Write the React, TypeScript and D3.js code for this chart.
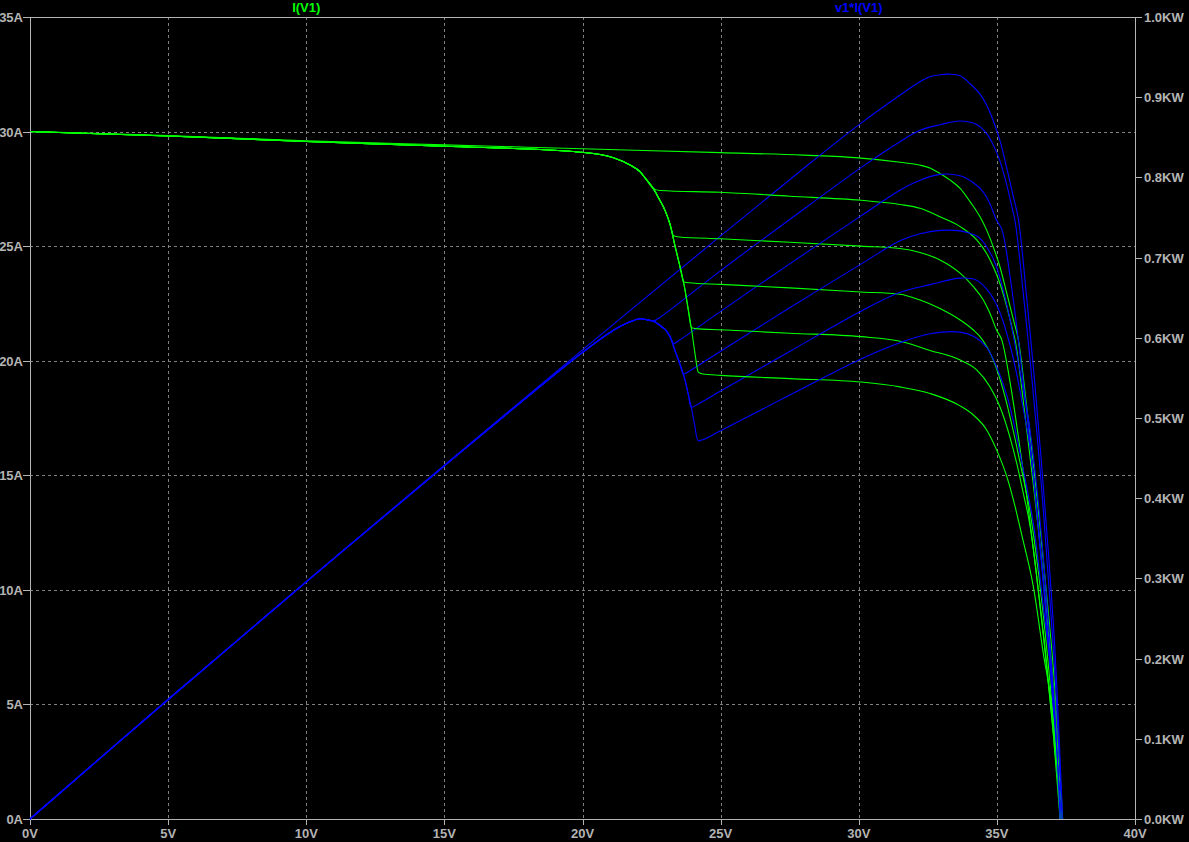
import React from 'react';
import * as d3 from 'd3';

type Pt = [number, number]; // [volts, amps]

// x axis (volts) and y axes
const voltTicks = [0, 5, 10, 15, 20, 25, 30, 35, 40];
const ampTicks = [0, 5, 10, 15, 20, 25, 30, 35];
const kwTicks = [0, 0.1, 0.2, 0.3, 0.4, 0.5, 0.6, 0.7, 0.8, 0.9, 1.0];

// unshaded panel
const curveFull: Pt[] = [
  [0, 30.0], [5, 29.83], [10, 29.6], [15, 29.42], [20, 29.25], [25, 29.08], [28, 28.97],
  [30, 28.85], [31.5, 28.66], [32.2, 28.54], [32.6, 28.4], [32.94, 28.17], [33.3, 27.89],
  [33.67, 27.52], [34.03, 26.94], [34.39, 26.28], [34.63, 25.7], [34.87, 24.97], [35.11, 24.1],
  [35.36, 22.94], [35.6, 21.78], [35.78, 20.9], [36.08, 18.0], [36.35, 15.2], [36.6, 12.3],
  [36.85, 9.2], [37.1, 5.7], [37.38, 0],
];

// shared knee of the shaded sweeps (bypass diode kicking in)
const shadedKnee: Pt[] = [
  [0, 30.0], [5, 29.81], [10, 29.57], [15, 29.36], [19.91, 29.1], [21.12, 28.86], [21.72, 28.54],
  [22.08, 28.25], [22.32, 27.89], [22.56, 27.52], [22.8, 27.0], [22.99, 26.55], [23.17, 25.95],
  [23.35, 25.0], [23.53, 24.1], [23.71, 23.09], [23.83, 22.22], [23.95, 21.35], [24.07, 20.33],
  [24.19, 19.53],
];

const tailB: Pt[] = [
  [22.8, 27.43], [24.98, 27.35], [27.5, 27.18], [30.08, 27.0], [31.49, 26.82], [32.22, 26.65],
  [32.94, 26.28], [33.67, 25.85], [34.27, 25.27], [34.63, 24.68], [34.87, 24.1], [35.11, 23.37],
  [35.36, 22.35], [35.54, 21.49], [35.66, 20.9], [36.0, 17.8], [36.3, 14.8], [36.6, 11.5],
  [36.85, 8.3], [37.1, 4.9], [37.36, 0],
];
const tailC: Pt[] = [
  [23.3, 25.45], [23.5, 25.4], [25, 25.32], [27.5, 25.17], [30.08, 25.0], [31.49, 24.9],
  [32.22, 24.72], [32.94, 24.4], [33.67, 23.82], [34.15, 23.23], [34.51, 22.65], [34.75, 22.07],
  [34.99, 21.34], [35.18, 20.9], [35.5, 18.9], [35.8, 16.5], [36.1, 13.9], [36.4, 11.0],
  [36.7, 7.8], [37.0, 4.3], [37.33, 0],
];
const tailD: Pt[] = [
  [23.66, 23.45], [23.85, 23.4], [25, 23.33], [27.5, 23.18], [30.08, 23.0], [31.49, 22.9],
  [32.22, 22.65], [32.94, 22.28], [33.67, 21.78], [34.15, 21.34], [34.39, 21.05], [34.87, 20.03],
  [35.23, 18.72], [35.6, 16.9], [35.9, 15.2], [36.2, 13.4], [36.5, 10.8], [36.8, 7.5],
  [37.05, 4.2], [37.31, 0],
];
const tailE: Pt[] = [
  [23.94, 21.45], [24.1, 21.4], [25, 21.35], [27.5, 21.2], [30.08, 21.05], [31.5, 20.85],
  [32.58, 20.45], [33.67, 20.03], [34.27, 19.6], [34.75, 18.86], [35.11, 17.99], [35.47, 16.68],
  [35.72, 15.52], [35.96, 14.2], [36.2, 12.8], [36.5, 10.0], [36.8, 6.8], [37.05, 3.6], [37.29, 0],
];
const tailF: Pt[] = [
  [24.19, 19.5], [24.35, 19.42], [25, 19.36], [27.5, 19.22], [30.08, 19.07], [31.49, 18.86],
  [32.58, 18.57], [33.67, 18.03], [34.15, 17.63], [34.63, 16.98], [34.99, 16.11], [35.36, 14.94],
  [35.6, 13.92], [35.9, 12.4], [36.32, 10.14], [36.68, 7.23], [37.04, 4.32], [37.22, 1.41],
  [37.29, 0],
];

const joinKnee = (tail: Pt[]): Pt[] => [...shadedKnee.filter((p) => p[0] < tail[0][0]), ...tail];

const curves: Pt[][] = [
  curveFull,
  joinKnee(tailB),
  joinKnee(tailC),
  joinKnee(tailD),
  joinKnee(tailE),
  joinKnee(tailF),
];

const W = 1189;
const H = 842;
const M = { left: 30, right: 1135, top: 17, bottom: 819 };
const AXIS = '#b4b4b4';
const GRID = '#808080';
const GREEN = '#00ff00';
const BLUE = '#0000ff';
const FONT = '"Liberation Sans", Arial, sans-serif';

const App: React.FC = () => {
  const x = d3.scaleLinear().domain([0, 40]).range([M.left, M.right]);
  const yA = d3.scaleLinear().domain([0, 35]).range([M.bottom, M.top]);
  const yKW = d3.scaleLinear().domain([0, 1.0]).range([M.bottom, M.top]);

  const currentLine = d3.line<Pt>()
    .x((d) => x(d[0]))
    .y((d) => yA(d[1]))
    .curve(d3.curveMonotoneX);

  // v1*I(V1), in kW
  const powerLine = d3.line<Pt>()
    .x((d) => x(d[0]))
    .y((d) => yKW((d[0] * d[1]) / 1000))
    .curve(d3.curveCatmullRom.alpha(0.5));

  const px = (v: number) => Math.round(v) + 0.5;

  return (
    <div style={{ position: 'fixed', left: 0, top: 0, width: W, height: H, background: '#000' }}>
      <svg width={W} height={H} style={{ display: 'block', background: '#000' }}>
        {/* grid */}
        <g stroke={GRID} strokeWidth={1} strokeDasharray="3,3" shapeRendering="crispEdges">
          {voltTicks.slice(1, -1).map((v) => (
            <line key={'gx' + v} x1={px(x(v))} x2={px(x(v))} y1={M.top} y2={M.bottom} />
          ))}
          {ampTicks.slice(1, -1).map((a) => (
            <line key={'gy' + a} x1={M.left} x2={M.right} y1={px(yA(a))} y2={px(yA(a))} />
          ))}
        </g>

        {/* frame */}
        <g stroke={AXIS} strokeWidth={1} fill="none" shapeRendering="crispEdges">
          <rect x={px(M.left)} y={px(M.top)} width={Math.round(M.right - M.left)} height={Math.round(M.bottom - M.top)} />
          {ampTicks.map((a) => (
            <line key={'ta' + a} x1={M.left - 7} x2={M.left} y1={px(yA(a))} y2={px(yA(a))} />
          ))}
          {kwTicks.map((k) => (
            <line key={'tk' + k} x1={M.right} x2={M.right + 7} y1={px(yKW(k))} y2={px(yKW(k))} />
          ))}
          {voltTicks.map((v) => (
            <line key={'tv' + v} x1={px(x(v))} x2={px(x(v))} y1={M.bottom} y2={M.bottom + 6} />
          ))}
        </g>

        {/* traces: for each step, current then power */}
        <g fill="none" strokeWidth={1.1}>
          {curves.map((c, i) => (
            <g key={'c' + i}>
              <path d={currentLine(c) || ''} stroke={GREEN} />
              <path d={powerLine(c) || ''} stroke={BLUE} />
            </g>
          ))}
        </g>

        {/* tick labels */}
        <g fill={AXIS} fontFamily={FONT} fontWeight="bold" fontSize={13}>
          {ampTicks.map((a) => (
            <text key={'la' + a} x={23} y={yA(a) + 5} textAnchor="end">{a}A</text>
          ))}
          {kwTicks.map((k) => (
            <text key={'lk' + k} x={M.right + 9} y={yKW(k) + 5}>{k.toFixed(1)}KW</text>
          ))}
          {voltTicks.map((v) => (
            <text key={'lv' + v} x={x(v)} y={838} textAnchor="middle">{v}V</text>
          ))}
        </g>

        {/* trace names */}
        <g fontFamily={FONT} fontWeight="bold" fontSize={13} textAnchor="middle">
          <text x={x(10)} y={12} fill={GREEN}>I(V1)</text>
          <text x={x(30)} y={12} fill={BLUE}>v1*I(V1)</text>
        </g>
      </svg>
    </div>
  );
};

export default App;
